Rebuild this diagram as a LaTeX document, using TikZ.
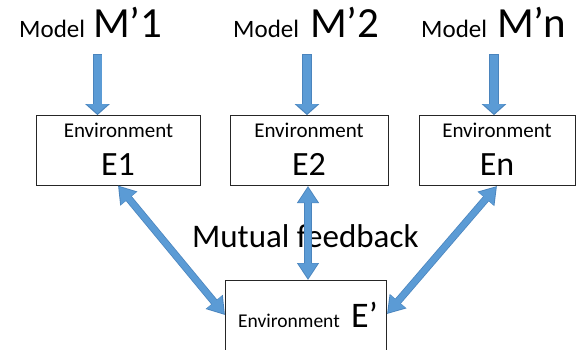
\documentclass[tikz,border=0pt]{standalone}
\usepackage{fontspec}
\usepackage{graphicx}
\setmainfont{Carlito}
\usetikzlibrary{arrows.meta}
\definecolor{arrowblue}{HTML}{5B9BD5}
\definecolor{arrowedge}{HTML}{4A84BD}
\begin{document}
\begin{tikzpicture}[x=1pt,y=-1pt,
  envbox/.style={draw=black!85, line width=0.8pt, inner sep=0pt},
  envword/.style={anchor=base, inner sep=0pt, font=\fontsize{21}{21}\selectfont},
  big/.style={anchor=base, inner sep=0pt, font=\fontsize{34}{34}\selectfont},
  modelword/.style={anchor=base west, inner sep=0pt, font=\fontsize{25}{25}\selectfont},
  modelname/.style={anchor=base west, inner sep=0pt, font=\fontsize{43}{43}\selectfont},
  downarrow/.style={draw=arrowedge, line width=9.5pt, -{Triangle[width=24pt,length=11pt]},
    postaction={draw=arrowblue, line width=8pt, shorten >=1.6pt, shorten <=0.8pt, -{Triangle[width=21pt,length=9.5pt]}}},
  fbarrow/.style={draw=arrowedge, line width=7.5pt, {Triangle[width=21pt,length=17pt]}-{Triangle[width=21pt,length=17pt]},
    postaction={draw=arrowblue, line width=6pt, shorten >=1.6pt, shorten <=1.6pt, {Triangle[width=18.5pt,length=15pt]}-{Triangle[width=18.5pt,length=15pt]}}}
]
\useasboundingbox (0,0) rectangle (578,349);
% model labels
\node[modelword] (mw1) at (19,37) {Model};
\node[modelname] (mn1) at (93,37) {M’1};
\node[modelword] (mw2) at (233,37) {Model};
\node[modelname] (mn2) at (310,37) {M’2};
\node[modelword] (mw3) at (421,37) {Model};
\node[modelname] (mn3) at (497,37) {M’n};
% boxes
\node[envbox, minimum width=164pt, minimum height=69.5pt] (b1) at (118,150.25) {};
\node[envbox, minimum width=158pt, minimum height=69.5pt] (b2) at (309,150.25) {};
\node[envbox, minimum width=156pt, minimum height=69.5pt] (b3) at (497,150.25) {};
\node[envbox, minimum width=161pt, minimum height=80pt, anchor=north] (bp) at (305.5,280) {};
% box texts
\node[envword] (t1) at (118.5,137) {Environment};
\node[big] (e1) at (118,175) {E1};
\node[envword] (t2) at (309,137) {Environment};
\node[big] (e2) at (309,175) {E2};
\node[envword] (t3) at (497,137) {Environment};
\node[big] (e3) at (497,175) {En};
\node[envword, anchor=base west, font=\fontsize{19.5}{19.5}\selectfont] (tp) at (238,327) {Environment};
\node[anchor=base west, inner sep=0pt, font=\fontsize{36}{36}\selectfont] (ep) at (351,327) {E’};
\node[anchor=base west, inner sep=0pt, font=\fontsize{33}{33}\selectfont] (mf) at (192,247) {Mutual feedback};
% down arrows
\coordinate (s1) at (97.5,54);
\coordinate (s2) at (307,54);
\coordinate (s3) at (494,54);
\draw[downarrow] (s1) -- (s1 |- b1.north);
\draw[downarrow] (s2) -- (s2 |- b2.north);
\draw[downarrow] (s3) -- (s3 |- b3.north);
% feedback arrows
\coordinate (f1a) at (118,185.5);
\coordinate (f1b) at (225,315);
\coordinate (f2a) at (308,186);
\coordinate (f2b) at (308,280);
\coordinate (f3a) at (497,186);
\coordinate (f3b) at (387,314);
\draw[fbarrow] (f1a) -- (f1b);
\draw[fbarrow] (f2a) -- (f2b);
\draw[fbarrow] (f3a) -- (f3b);
\end{tikzpicture}
\end{document}
